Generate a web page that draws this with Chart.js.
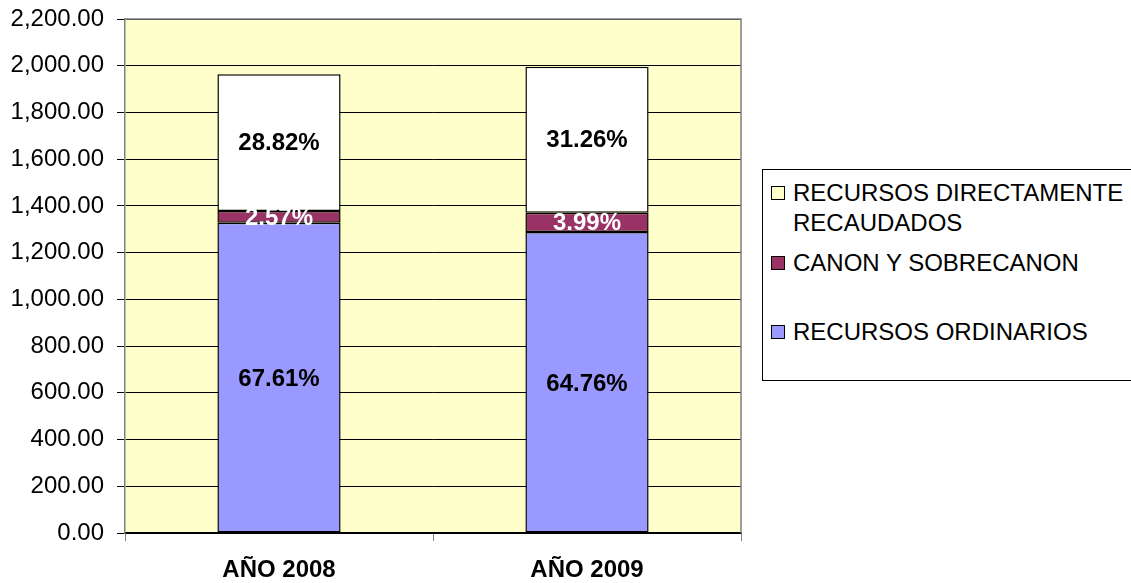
<!DOCTYPE html>
<html>
<head>
<meta charset="utf-8">
<script src="https://cdn.jsdelivr.net/npm/chart.js@4/dist/chart.umd.min.js"></script>
<style>
  body { margin: 0; background: #fff; }
  #wrap { position: relative; width: 1131px; height: 583px; overflow: hidden; }
  #leyenda {
    position: absolute; left: 762px; top: 169px; width: 400px; height: 212px;
    border: 1px solid #000; box-sizing: border-box; background: #fff;
  }
  .caja { position: absolute; left: 771px; width: 14px; height: 14px; border: 1px solid #000; box-sizing: border-box; }
  .txt {
    position: absolute; left: 793px; white-space: nowrap; line-height: 30px;
    font-family: "Liberation Sans", Arial, sans-serif; font-size: 24px; color: #000;
  }
</style>
</head>
<body>
<div id="wrap">
  <canvas id="grafico" width="1131" height="583"></canvas>
  <div id="leyenda"></div>
  <div class="caja" style="top:186px;background:#ffffcc"></div>
  <div class="txt" style="top:178px">RECURSOS DIRECTAMENTE<br>RECAUDADOS</div>
  <div class="caja" style="top:256px;background:#993366"></div>
  <div class="txt" style="top:248px">CANON Y SOBRECANON</div>
  <div class="caja" style="top:325px;background:#9999ff"></div>
  <div class="txt" style="top:317px">RECURSOS ORDINARIOS</div>
</div>
<script>
var anios = ['AÑO 2008', 'AÑO 2009'];
var recursosOrdinarios = [1328, 1288];
var canonSobrecanon = [50, 83];
var recursosDirectos = [585, 625];
var pctOrdinarios = ['67.61%', '64.76%'];
var pctCanon = ['2.57%', '3.99%'];
var pctDirectos = ['28.82%', '31.26%'];

var fondoPlot = {
    id: 'fondoPlot',
    beforeDraw: function(chart) {
        var a = chart.chartArea, ctx = chart.ctx;
        ctx.save();
        ctx.fillStyle = '#ffffcc';
        ctx.fillRect(a.left, a.top, a.right - a.left, a.bottom - a.top);
        ctx.restore();
    },
    afterDatasetsDraw: function(chart) {
        var a = chart.ctx, area = chart.chartArea;
        a.save();
        a.strokeStyle = '#808080';
        a.lineWidth = 1.5;
        a.beginPath();
        a.moveTo(area.left, area.top);
        a.lineTo(area.right, area.top);
        a.lineTo(area.right, area.bottom);
        a.stroke();
        a.restore();

        // etiquetas de porcentaje
        var etiquetas = [pctOrdinarios, pctCanon, pctDirectos];
        var colores = ['#000', '#fff', '#000'];
        var ajuste = [2, 1, 1];
        a.save();
        a.font = 'bold 24px "Liberation Sans", Arial, sans-serif';
        a.textAlign = 'center';
        a.textBaseline = 'middle';
        chart.data.datasets.forEach(function(ds, i) {
            var meta = chart.getDatasetMeta(i);
            meta.data.forEach(function(bar, j) {
                a.fillStyle = colores[i];
                a.fillText(etiquetas[i][j], bar.x, (bar.y + bar.base) / 2 + ajuste[i]);
            });
        });
        a.restore();
    }
};

var ctx = document.getElementById('grafico').getContext('2d');
new Chart(ctx, {
    type: 'bar',
    data: {
        labels: anios,
        datasets: [
            { label: 'RECURSOS ORDINARIOS', data: recursosOrdinarios, backgroundColor: '#9999ff' },
            { label: 'CANON Y SOBRECANON', data: canonSobrecanon, backgroundColor: '#993366' },
            { label: 'RECURSOS DIRECTAMENTE RECAUDADOS', data: recursosDirectos, backgroundColor: '#ffffff' }
        ]
    },
    options: {
        responsive: false,
        animation: false,
        layout: { padding: { top: 19, right: 390, left: 0, bottom: 0 } },
        datasets: {
            bar: {
                borderColor: '#000',
                borderWidth: 1.5,
                borderSkipped: false,
                categoryPercentage: 1,
                barPercentage: 0.4
            }
        },
        plugins: {
            legend: { display: false },
            tooltip: { enabled: false }
        },
        scales: {
            x: {
                stacked: true,
                grid: { offset: true, drawOnChartArea: false, color: '#808080', tickLength: 8 },
                border: { color: '#000', width: 1.5 },
                ticks: {
                    color: '#000',
                    padding: 15,
                    font: { family: '"Liberation Sans", Arial, sans-serif', size: 24, weight: 'bold' }
                },
                afterFit: function(scale) { scale.height = 50; }
            },
            y: {
                stacked: true,
                min: 0,
                max: 2200,
                grid: { color: '#000', lineWidth: 1, tickLength: 8 },
                border: { color: '#808080', width: 1.5 },
                ticks: {
                    stepSize: 200,
                    color: '#000',
                    padding: 13,
                    font: { family: '"Liberation Sans", Arial, sans-serif', size: 24 },
                    callback: function(v) {
                        return v.toLocaleString('en-US', { minimumFractionDigits: 2, maximumFractionDigits: 2 });
                    }
                },
                afterFit: function(scale) {
                    scale.width = 125;
                    scale.paddingTop = 0;
                    scale.paddingBottom = 0;
                }
            }
        }
    },
    plugins: [fondoPlot]
});
</script>
</body>
</html>
